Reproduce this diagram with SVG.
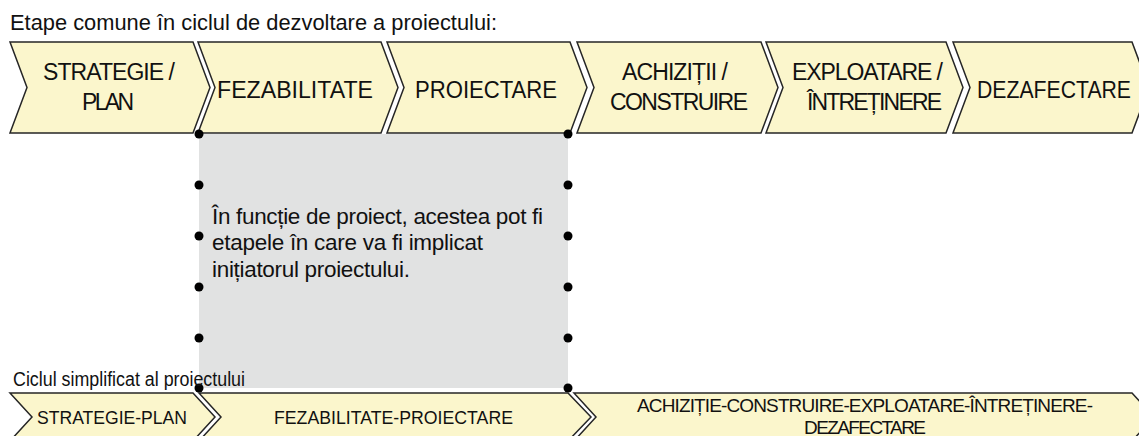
<svg xmlns="http://www.w3.org/2000/svg" width="1139" height="436" viewBox="0 0 1139 436">
<style>
.chev{fill:#FBF6CC;stroke:#262626;stroke-width:1.5;stroke-linejoin:miter}
.lbl{font-family:"Liberation Sans",Arial,sans-serif;font-size:23px;fill:#111}
.sm{font-family:"Liberation Sans",Arial,sans-serif;font-size:19px;fill:#111}
.txt{font-family:"Liberation Sans",Arial,sans-serif;fill:#111}
.dot{fill:#000}
</style>
<rect width="1139" height="436" fill="#fff"/>
<text class="txt" x="10" y="30" font-size="22.5" textLength="487" lengthAdjust="spacingAndGlyphs">Etape comune în ciclul de dezvoltare a proiectului:</text>
<g id="note">
<rect x="199" y="134" width="369" height="254" fill="#E1E2E2"/>
<text class="txt" font-size="22.5" lengthAdjust="spacingAndGlyphs"><tspan x="212" y="224" textLength="331">În funcție de proiect, acestea pot fi</tspan><tspan x="212" y="250" textLength="271">etapele în care va fi implicat</tspan><tspan x="212" y="277" textLength="198">inițiatorul proiectului.</tspan></text>
</g>
<g id="stage-strategie">
<polygon class="chev" points="10,42 193,42 210,87.5 193,133 10,133 27,87.5"/>
<text class="lbl" lengthAdjust="spacingAndGlyphs"><tspan x="43" y="80" textLength="132">STRATEGIE /</tspan><tspan x="82" y="110" textLength="52">PLAN</tspan></text>
</g>
<g id="stage-fezabilitate">
<polygon class="chev" points="198,42 381,42 398,87.5 381,133 198,133 215,87.5"/>
<text class="lbl" x="217" y="98" textLength="156" lengthAdjust="spacingAndGlyphs">FEZABILITATE</text>
</g>
<g id="stage-proiectare">
<polygon class="chev" points="387,42 570,42 587,87.5 570,133 387,133 404,87.5"/>
<text class="lbl" x="415" y="98" textLength="142" lengthAdjust="spacingAndGlyphs">PROIECTARE</text>
</g>
<g id="stage-achizitii">
<polygon class="chev" points="577,42 761,42 778,87.5 761,133 577,133 594,87.5"/>
<text class="lbl" lengthAdjust="spacingAndGlyphs"><tspan x="622" y="80" textLength="106">ACHIZIȚII /</tspan><tspan x="610" y="110" textLength="138">CONSTRUIRE</tspan></text>
</g>
<g id="stage-exploatare">
<polygon class="chev" points="766,42 946,42 963,87.5 946,133 766,133 783,87.5"/>
<text class="lbl" lengthAdjust="spacingAndGlyphs"><tspan x="792" y="80" textLength="151">EXPLOATARE /</tspan><tspan x="807" y="110" textLength="135">ÎNTREȚINERE</tspan></text>
</g>
<g id="stage-dezafectare">
<polygon class="chev" points="953,42 1132,42 1149,87.5 1132,133 953,133 970,87.5"/>
<text class="lbl" x="977" y="98" textLength="154" lengthAdjust="spacingAndGlyphs">DEZAFECTARE</text>
</g>
<g id="dots">
<circle class="dot" cx="199" cy="134" r="4.5"/><circle class="dot" cx="199" cy="185" r="4.5"/><circle class="dot" cx="199" cy="236" r="4.5"/><circle class="dot" cx="199" cy="287" r="4.5"/><circle class="dot" cx="199" cy="338" r="4.5"/><circle class="dot" cx="199" cy="388" r="4.5"/>
<circle class="dot" cx="568" cy="134" r="4.5"/><circle class="dot" cx="568" cy="185" r="4.5"/><circle class="dot" cx="568" cy="236" r="4.5"/><circle class="dot" cx="568" cy="287" r="4.5"/><circle class="dot" cx="568" cy="338" r="4.5"/><circle class="dot" cx="568" cy="388" r="4.5"/>
</g>
<text class="txt" x="13" y="386" font-size="19.5" textLength="232" lengthAdjust="spacingAndGlyphs">Ciclul simplificat al proiectului</text>
<g id="simple-strategie">
<polygon class="chev" points="10,393 193,393 215,417 193,441 10,441 32,417"/>
<text class="sm" x="37" y="424" textLength="150" lengthAdjust="spacingAndGlyphs">STRATEGIE-PLAN</text>
</g>
<g id="simple-fezabilitate">
<polygon class="chev" points="199,393 568,393 591,417 568,441 199,441 221,417"/>
<text class="sm" x="274" y="424" textLength="239" lengthAdjust="spacingAndGlyphs">FEZABILITATE-PROIECTARE</text>
</g>
<g id="simple-achizitie">
<polygon class="chev" points="574,393 1132,393 1154,417 1132,441 574,441 596,417"/>
<text class="sm" lengthAdjust="spacingAndGlyphs"><tspan x="637" y="412" textLength="456">ACHIZIȚIE-CONSTRUIRE-EXPLOATARE-ÎNTREȚINERE-</tspan><tspan x="804" y="434" textLength="122">DEZAFECTARE</tspan></text>
</g>
<g id="connectors"/>
</svg>
